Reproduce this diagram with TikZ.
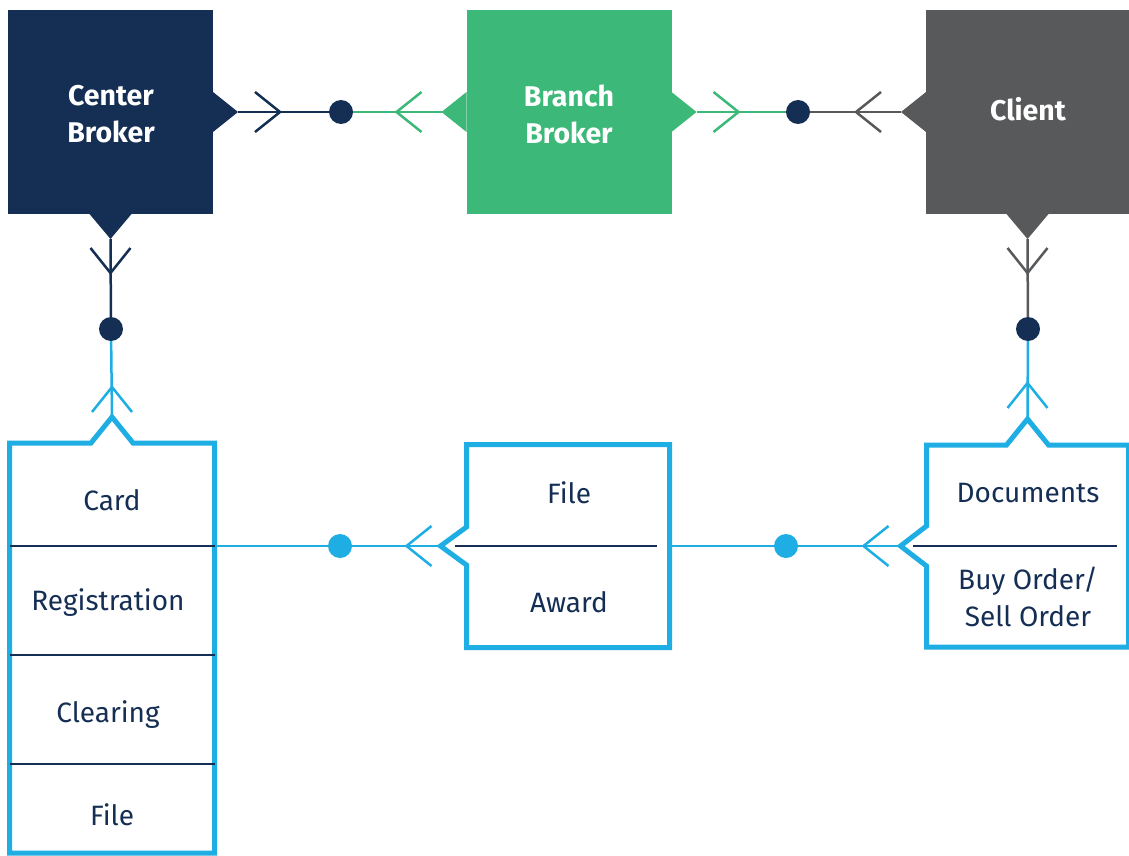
\documentclass[tikz,border=0pt]{standalone}
\usepackage{fontspec}
\setmainfont{Fira Sans}
\usetikzlibrary{positioning,calc}
\definecolor{navy}{HTML}{152E54}
\definecolor{leaf}{HTML}{3CB878}
\definecolor{slate}{HTML}{58595B}
\definecolor{sky}{HTML}{1EAEE4}

\tikzset{
  entity/.style={rectangle, inner sep=0pt, outer sep=0pt, minimum width=205pt, minimum height=204pt},
  heading/.style={text=white, align=center, font=\fontsize{28.5}{37}\selectfont\bfseries},
  record/.style={rectangle, inner sep=0pt, outer sep=0pt},
  recordline/.style={draw=sky, line width=5pt, line join=miter},
  divider/.style={draw=navy, line width=2.5pt},
  field/.style={text=navy, align=center, font=\fontsize{28}{37}\selectfont},
  dot/.style={circle, inner sep=0pt, minimum size=24pt},
  link/.style={line width=2.5pt},
  crowfoot/.pic={\draw[pic actions] (-25,20) -- (0,0) -- (-25,-20);}
}

\begin{document}
\begin{tikzpicture}[x=1pt,y=-1pt]
\useasboundingbox (0,0) rectangle (1129,856);

% the entities -- top row
\node[entity, fill=navy] (center) at (110.5,112) {};
\node[entity, fill=leaf] (branch) at (569,112) {};
\node[entity, fill=slate, minimum width=203pt] (client) at (1027.5,112) {};
\node[heading] (centertxt) at (111,114) {Center\\Broker};
\node[heading] (branchtxt) at (569,114) {Branch\\Broker};
\node[heading] (clienttxt) at (1028,109) {Client};

% notches
\fill[navy] ([yshift=20pt]center.east) -- ([xshift=25pt]center.east) coordinate (center-e) -- ([yshift=-20pt]center.east) -- cycle;
\fill[navy] ([xshift=-21pt]center.south) -- ([yshift=-25pt]center.south) coordinate (center-s) -- ([xshift=21pt]center.south) -- cycle;
\fill[leaf] ([yshift=20pt]branch.west) -- ([xshift=-25pt]branch.west) coordinate (branch-w) -- ([yshift=-20pt]branch.west) -- cycle;
\fill[leaf] ([yshift=20pt]branch.east) -- ([xshift=25pt]branch.east) coordinate (branch-e) -- ([yshift=-20pt]branch.east) -- cycle;
\fill[slate] ([yshift=20pt]client.west) -- ([xshift=-25pt]client.west) coordinate (client-w) -- ([yshift=-20pt]client.west) -- cycle;
\fill[slate] ([xshift=-21pt]client.south) -- ([yshift=-25pt]client.south) coordinate (client-s) -- ([xshift=21pt]client.south) -- cycle;

% the records -- bottom row
\node[record, minimum width=205pt, minimum height=410pt] (ledger) at (112,648) {};
\node[record, minimum width=203pt, minimum height=203pt] (awards) at (568,546) {};
\node[record, minimum width=202pt, minimum height=202pt] (orders) at (1027.5,546) {};

\draw[recordline] (ledger.north west) -- ([xshift=-21pt]ledger.north) -- ([yshift=26pt]ledger.north) coordinate (ledger-n)
  -- ([xshift=21pt]ledger.north) -- (ledger.north east) -- (ledger.south east) -- (ledger.south west) -- cycle;
\draw[recordline] (awards.north west) -- ([yshift=19pt]awards.west) -- ([xshift=-26pt]awards.west) coordinate (awards-w)
  -- ([yshift=-19pt]awards.west) -- (awards.south west) -- (awards.south east) -- (awards.north east) -- cycle;
\draw[recordline] (orders.north west) -- ([xshift=-21pt]orders.north) -- ([yshift=26pt]orders.north) coordinate (orders-n)
  -- ([xshift=21pt]orders.north) -- (orders.north east) -- (orders.south east) -- (orders.south west)
  -- ([yshift=-20pt]orders.west) -- ([xshift=-26pt]orders.west) coordinate (orders-w) -- ([yshift=20pt]orders.west) -- cycle;

% dividers
\draw[divider] (9.5,546) -- (214.5,546);
\draw[divider] (9.5,655) -- (214.5,655);
\draw[divider] (9.5,764) -- (214.5,764);
\draw[divider] (455,546) -- (657,546);
\draw[divider] (913,546) -- (1117,546);
\coordinate (ledger-r) at (214.5,546);

% the fields
\node[field] (card) at (112,500) {Card};
\node[field] (registration) at (108,603) {Registration};
\node[field] (clearing) at (108,715) {Clearing};
\node[field] (ledgerfile) at (112,815) {File};
\node[field] (awardfile) at (569,493) {File};
\node[field] (award) at (569,602) {Award};
\node[field] (documents) at (1028,493) {Documents};
\node[field] (buysell) at (1028,597) {Buy Order/\\Sell Order};

% the dots
\node[dot, fill=navy] (d1) at (341,112) {};
\node[dot, fill=navy] (d2) at (798,112) {};
\node[dot, fill=navy] (d3) at (111,329) {};
\node[dot, fill=navy] (d4) at (1028,329) {};
\node[dot, fill=sky] (d5) at (340,546) {};
\node[dot, fill=sky] (d6) at (786,546) {};

% the links
\draw[link, navy] (center-e) -- (d1);
\draw[link, leaf] (d1) -- (branch-w);
\draw[link, leaf] (branch-e) -- (d2);
\draw[link, slate] (d2) -- (client-w);
\draw[link, navy] (center-s) -- (d3);
\draw[link, sky] (d3) -- (ledger-n);
\draw[link, slate] (client-s) -- (d4);
\draw[link, sky] (d4) -- (orders-n);
\draw[link, sky] (ledger-r) -- (d5);
\draw[link, sky] (d5) -- (awards-w);
\draw[link, sky] (awards.east) -- (d6);
\draw[link, sky] (d6) -- (orders-w);

% crow feet
\pic[draw=navy, line width=2.5pt] at ([xshift=42pt]center-e) {crowfoot};
\pic[draw=leaf, line width=2.5pt, rotate=180] at ([xshift=-45pt]branch-w) {crowfoot};
\pic[draw=leaf, line width=2.5pt] at ([xshift=42pt]branch-e) {crowfoot};
\pic[draw=slate, line width=2.5pt, rotate=180] at ([xshift=-45pt]client-w) {crowfoot};
\pic[draw=navy, line width=2.5pt, rotate=-90] at ([yshift=-34pt]center-s) {crowfoot};
\pic[draw=slate, line width=2.5pt, rotate=-90] at ([yshift=-34pt]client-s) {crowfoot};
\pic[draw=sky, line width=2.5pt, rotate=90] at ([yshift=30pt]ledger-n) {crowfoot};
\pic[draw=sky, line width=2.5pt, rotate=90] at ([yshift=36pt]orders-n) {crowfoot};
\pic[draw=sky, line width=2.5pt, rotate=180] at ([xshift=-34pt]awards-w) {crowfoot};
\pic[draw=sky, line width=2.5pt, rotate=180] at ([xshift=-37pt]orders-w) {crowfoot};
\end{tikzpicture}
\end{document}
